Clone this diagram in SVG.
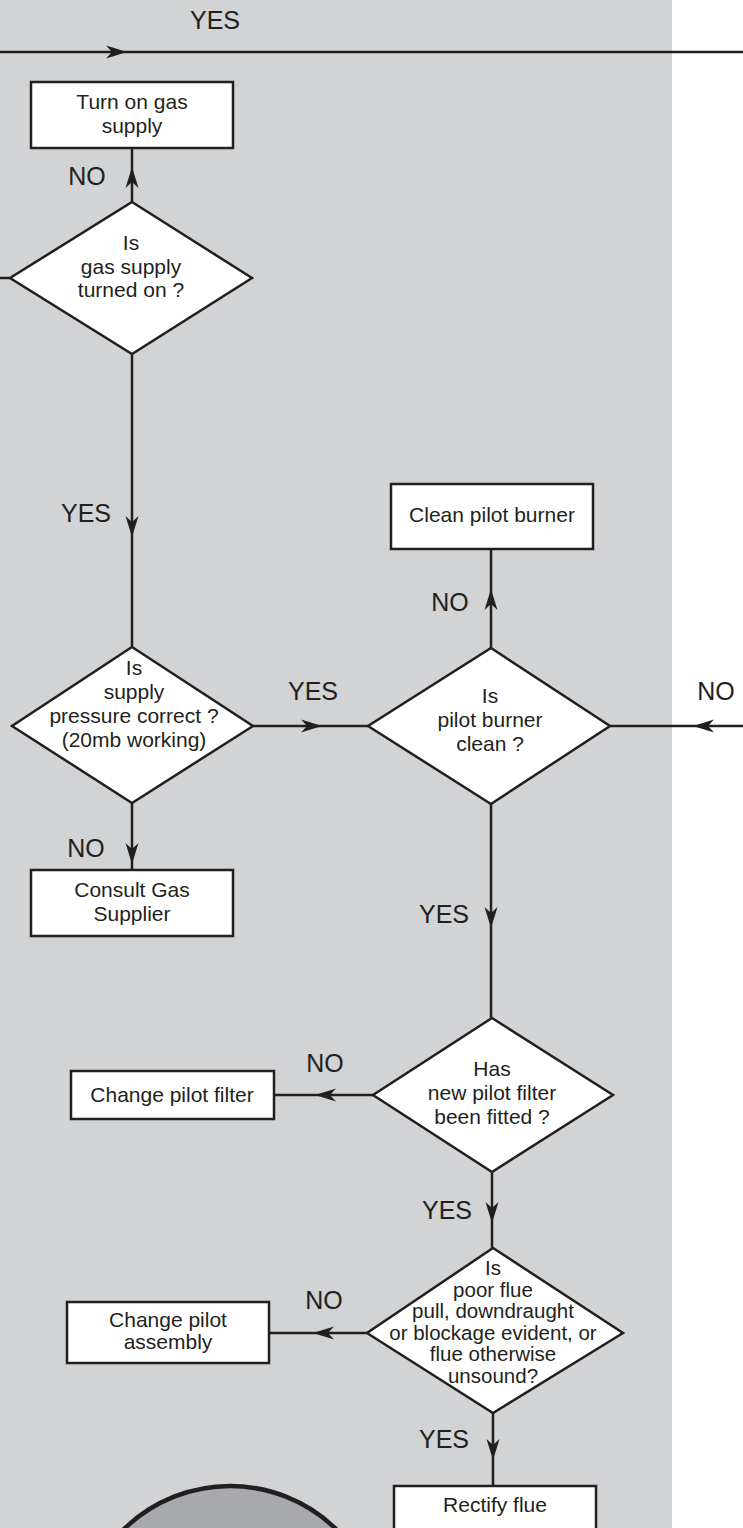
<svg xmlns="http://www.w3.org/2000/svg" xmlns:xlink="http://www.w3.org/1999/xlink" width="743" height="1528" viewBox="0 0 743 1528">
<style>
.box{fill:#ffffff;stroke:#231f20;stroke-width:2.5}
.dia{fill:#ffffff;stroke:#231f20;stroke-width:2.5;stroke-linejoin:miter}
.t{font-family:"Liberation Sans",Arial,sans-serif;font-size:21px;fill:#231f20;text-anchor:middle}
.t5{font-family:"Liberation Sans",Arial,sans-serif;font-size:20.5px;fill:#231f20;text-anchor:middle}
.lbl{font-family:"Liberation Sans",Arial,sans-serif;font-size:25px;fill:#231f20;text-anchor:middle}
.ln{fill:none;stroke:#231f20;stroke-width:2.5}
.ah{fill:#231f20}
</style>
<defs>
<path id="ah" d="M0,0 L-21,-6.5 L-15,0 L-21,6.5 Z"/>
</defs>
<rect x="0" y="0" width="672" height="1528" fill="#d1d3d4"/>
<circle id="circle" cx="230" cy="1638" r="152" fill="#a7a9ac" stroke="#231f20" stroke-width="4.5"/>

<g id="connectors">
<line class="ln" x1="0" y1="52" x2="743" y2="52"/>
<line class="ln" x1="132" y1="202" x2="132" y2="148"/>
<line class="ln" x1="0" y1="278" x2="10" y2="278"/>
<line class="ln" x1="132" y1="354" x2="132" y2="647"/>
<line class="ln" x1="132" y1="803" x2="132" y2="870"/>
<line class="ln" x1="253" y1="726" x2="368" y2="726"/>
<line class="ln" x1="491" y1="648" x2="491" y2="549"/>
<line class="ln" x1="610" y1="726" x2="743" y2="726"/>
<line class="ln" x1="491" y1="804" x2="491" y2="1018"/>
<line class="ln" x1="373" y1="1095" x2="274" y2="1095"/>
<line class="ln" x1="492" y1="1172" x2="492" y2="1248"/>
<line class="ln" x1="367" y1="1333" x2="269" y2="1333"/>
<line class="ln" x1="493" y1="1413" x2="493" y2="1486"/>
<use xlink:href="#ah" class="ah" transform="translate(127,52)"/>
<use xlink:href="#ah" class="ah" transform="translate(132,167) rotate(-90)"/>
<use xlink:href="#ah" class="ah" transform="translate(132,537) rotate(90)"/>
<use xlink:href="#ah" class="ah" transform="translate(132,864) rotate(90)"/>
<use xlink:href="#ah" class="ah" transform="translate(322,726)"/>
<use xlink:href="#ah" class="ah" transform="translate(491,589) rotate(-90)"/>
<use xlink:href="#ah" class="ah" transform="translate(693,726) rotate(180)"/>
<use xlink:href="#ah" class="ah" transform="translate(491,928) rotate(90)"/>
<use xlink:href="#ah" class="ah" transform="translate(315,1095) rotate(180)"/>
<use xlink:href="#ah" class="ah" transform="translate(492,1223) rotate(90)"/>
<use xlink:href="#ah" class="ah" transform="translate(313,1333) rotate(180)"/>
<use xlink:href="#ah" class="ah" transform="translate(493,1460) rotate(90)"/>
<text class="lbl" x="215" y="29">YES</text>
<text class="lbl" x="87" y="185">NO</text>
<text class="lbl" x="86" y="522">YES</text>
<text class="lbl" x="86" y="857">NO</text>
<text class="lbl" x="313" y="700">YES</text>
<text class="lbl" x="716" y="700">NO</text>
<text class="lbl" x="450" y="611">NO</text>
<text class="lbl" x="444" y="923">YES</text>
<text class="lbl" x="325" y="1072">NO</text>
<text class="lbl" x="447" y="1219">YES</text>
<text class="lbl" x="324" y="1309">NO</text>
<text class="lbl" x="444" y="1448">YES</text>
</g>

<g id="turn-on-gas">
<rect class="box" x="31" y="82" width="202" height="66"/>
<text class="t" x="132" y="109">Turn on gas</text>
<text class="t" x="132" y="133">supply</text>
</g>

<g id="gas-on">
<polygon class="dia" points="132,202 252,278 132,354 10,278"/>
<text class="t" x="131" y="250">Is</text>
<text class="t" x="131" y="274">gas supply</text>
<text class="t" x="131" y="297">turned on ?</text>
</g>

<g id="pressure">
<polygon class="dia" points="132,647 253,726 132,803 12,726"/>
<text class="t" x="134" y="675">Is</text>
<text class="t" x="134" y="699">supply</text>
<text class="t" x="134" y="723">pressure correct ?</text>
<text class="t" x="134" y="747">(20mb working)</text>
</g>

<g id="consult">
<rect class="box" x="31" y="870" width="202" height="66"/>
<text class="t" x="132" y="897">Consult Gas</text>
<text class="t" x="132" y="921">Supplier</text>
</g>

<g id="clean-burner">
<rect class="box" x="391" y="484" width="202" height="65"/>
<text class="t" x="492" y="522">Clean pilot burner</text>
</g>

<g id="burner-clean">
<polygon class="dia" points="491,648 610,726 491,804 368,726"/>
<text class="t" x="490" y="703">Is</text>
<text class="t" x="490" y="727">pilot burner</text>
<text class="t" x="490" y="751">clean ?</text>
</g>

<g id="filter-fitted">
<polygon class="dia" points="492,1018 613,1095 492,1172 373,1095"/>
<text class="t" x="492" y="1076">Has</text>
<text class="t" x="492" y="1100">new pilot filter</text>
<text class="t" x="492" y="1124">been fitted ?</text>
</g>

<g id="change-filter">
<rect class="box" x="71" y="1071" width="203" height="48"/>
<text class="t" x="172" y="1102">Change pilot filter</text>
</g>

<g id="flue">
<polygon class="dia" points="493,1248 623,1333 493,1413 367,1333"/>
<text class="t5" x="493" y="1275">Is</text>
<text class="t5" x="493" y="1297">poor flue</text>
<text class="t5" x="493" y="1318">pull, downdraught</text>
<text class="t5" x="493" y="1340">or blockage evident, or</text>
<text class="t5" x="493" y="1361">flue otherwise</text>
<text class="t5" x="493" y="1383">unsound?</text>
</g>

<g id="change-assembly">
<rect class="box" x="67" y="1302" width="202" height="61"/>
<text class="t" x="168" y="1327">Change pilot</text>
<text class="t" x="168" y="1349">assembly</text>
</g>

<g id="rectify">
<rect class="box" x="394" y="1486" width="202" height="60"/>
<text class="t" x="495" y="1512">Rectify flue</text>
</g>
</svg>
